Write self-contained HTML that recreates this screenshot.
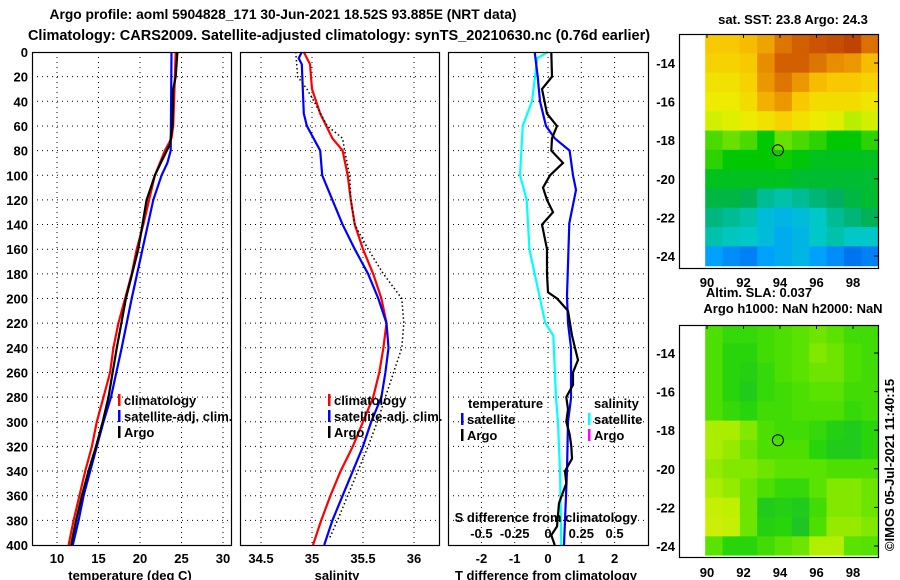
<!DOCTYPE html>
<html><head><meta charset="utf-8"><style>
html,body{margin:0;padding:0;background:#fff;width:900px;height:580px;overflow:hidden}
svg text{font-family:"Liberation Sans",Arial,sans-serif;font-weight:bold;fill:#000}
</style></head><body>
<svg id="fig" width="900" height="580" viewBox="0 0 900 580" xmlns="http://www.w3.org/2000/svg">
<text x="283" y="19" font-size="13.8" text-anchor="middle">Argo profile: aoml 5904828_171 30-Jun-2021 18.52S 93.885E (NRT data)</text>
<text x="339" y="40" font-size="14.5" text-anchor="middle">Climatology: CARS2009. Satellite-adjusted climatology: synTS_20210630.nc (0.76d earlier)</text>
<g id="g"></g>
</svg>
<script>
// ---------- data ----------
const depthTicks=[0,20,40,60,80,100,120,140,160,180,200,220,240,260,280,300,320,340,360,380,400];
const tempTicks=[10,15,20,25,30];
const salTicks=[34.5,35,35.5,36];
const tdiffTicks=[-2,-1,0,1,2];
const sdiffTicks=[-0.5,-0.25,0,0.25,0.5];
const sdiffLabels=["-0.5","-0.25","0","0.25","0.5"];
const latTicks=[-14,-16,-18,-20,-22,-24];
const lonTicks=[90,92,94,96,98];

const tClimDepth=[0,20,60,70,80,90,100,120,140,160,180,200,220,240,260,280,300,320,340,360,380,400];
const tClimVal=[24.3,24.2,24.0,23.8,23.0,22.4,21.8,21.1,20.4,19.6,19.0,18.2,17.4,16.8,16.4,15.6,14.8,14.2,13.4,12.7,12.0,11.4];
const tSatDepth=[0,80,90,100,120,160,200,240,280,300,340,360,380,400];
const tSatVal=[23.8,23.7,23.3,22.6,21.6,20.3,19.0,17.8,16.5,15.6,14.0,13.2,12.6,11.9];
const tArgoDepth=[0,20,30,60,75,90,100,110,120,160,200,240,280,300,320,340,360,380,400];
const tArgoVal=[24.5,24.3,24.0,23.9,23.6,22.5,21.8,21.3,20.8,19.8,18.3,17.2,16.2,15.5,14.7,13.8,13.0,12.3,11.7];

const sClimDepth=[0,10,30,50,70,80,100,120,140,160,180,200,220,240,260,280,300,320,340,360,380,400];
const sClimVal=[34.92,34.98,35.0,35.08,35.2,35.3,35.35,35.38,35.42,35.5,35.6,35.68,35.73,35.7,35.66,35.6,35.5,35.4,35.28,35.18,35.09,35.01];
const sSatDepth=[0,5,10,30,50,60,80,100,120,140,160,180,200,220,240,260,280,300,320,340,360,380,400];
const sSatVal=[34.9,34.87,34.9,34.91,34.92,34.95,35.08,35.1,35.2,35.3,35.42,35.55,35.65,35.73,35.75,35.72,35.68,35.58,35.5,35.4,35.3,35.2,35.12];
const sArgoDepth=[0,20,30,40,60,70,80,100,120,140,160,180,200,220,240,260,280,300,320,340,360,380,395];
const sArgoVal=[34.84,34.86,34.95,35.02,35.15,35.3,35.32,35.37,35.38,35.42,35.55,35.7,35.88,35.9,35.88,35.8,35.72,35.64,35.55,35.45,35.35,35.25,35.17];

const dtSatDepth=[0,20,40,60,70,80,100,112,139,198,220,240,281,300,340,400];
const dtSatVal=[-0.4,-0.31,-0.24,-0.06,0.2,0.65,0.75,0.84,0.64,0.57,0.6,0.69,0.69,0.6,0.57,0.48];
const dsSatDepth=[0,5,40,60,80,100,120,160,180,220,230,281,300,340,400];
const dsSatVal=[0,-0.08,-0.12,-0.19,-0.2,-0.21,-0.16,-0.14,-0.1,-0.02,0.04,0.06,0.075,0.09,0.1];
const dtArgoDepth=[0,20,30,50,60,70,80,90,100,110,120,130,140,160,180,195,200,210,230,250,260,270,280,290,300,310,320,330,340,350,366,385,392,400];
const dtArgoVal=[0.1,0.12,-0.18,-0.03,0.27,0.12,0.1,0.45,0.06,-0.15,-0.03,0.15,-0.18,-0.03,-0.03,0.0,0.27,0.6,0.72,0.9,0.75,0.75,0.55,0.6,0.55,0.65,0.7,0.72,0.51,0.55,0.33,0.27,0.1,0.2];

const sstGrid=[
[0.7,0.7,0.72,0.76,0.84,0.88,0.9,0.92,0.95,0.85],
[0.68,0.68,0.7,0.8,0.88,0.88,0.84,0.8,0.78,0.72],
[0.65,0.65,0.68,0.78,0.84,0.78,0.72,0.7,0.7,0.68],
[0.63,0.63,0.66,0.74,0.78,0.7,0.66,0.66,0.66,0.64],
[0.6,0.61,0.63,0.65,0.68,0.65,0.63,0.61,0.58,0.6],
[0.5,0.52,0.5,0.45,0.52,0.5,0.48,0.45,0.45,0.48],
[0.48,0.45,0.45,0.45,0.46,0.44,0.42,0.42,0.42,0.42],
[0.42,0.42,0.42,0.42,0.42,0.4,0.4,0.4,0.4,0.4],
[0.38,0.38,0.36,0.3,0.28,0.3,0.33,0.35,0.38,0.4],
[0.32,0.3,0.28,0.22,0.2,0.22,0.25,0.3,0.33,0.36],
[0.28,0.26,0.25,0.22,0.18,0.2,0.25,0.28,0.25,0.25],
[0.15,0.12,0.1,0.15,0.18,0.2,0.15,0.12,0.08,0.1]];
const slaGrid=[
[0.45,0.35,0.35,0.4,0.45,0.5,0.55,0.5,0.4,0.4],
[0.45,0.3,0.3,0.4,0.45,0.5,0.6,0.55,0.45,0.4],
[0.45,0.3,0.25,0.35,0.45,0.5,0.55,0.55,0.45,0.4],
[0.45,0.3,0.2,0.35,0.4,0.45,0.5,0.5,0.4,0.4],
[0.45,0.35,0.3,0.4,0.4,0.45,0.45,0.45,0.35,0.4],
[0.7,0.7,0.6,0.45,0.4,0.4,0.35,0.25,0.2,0.3],
[0.7,0.65,0.55,0.45,0.45,0.45,0.3,0.2,0.2,0.3],
[0.65,0.6,0.6,0.55,0.5,0.5,0.5,0.45,0.45,0.45],
[0.7,0.65,0.55,0.45,0.35,0.35,0.5,0.6,0.6,0.55],
[0.8,0.75,0.55,0.2,0.25,0.2,0.4,0.6,0.6,0.55],
[0.85,0.8,0.55,0.25,0.3,0.15,0.45,0.65,0.65,0.6],
[0.5,0.3,0.3,0.4,0.5,0.55,0.72,0.72,0.5,0.48]];

// ---------- helpers ----------
const NS="http://www.w3.org/2000/svg";
const G=document.getElementById('g');
function mk(tag,attrs,parent){const e=document.createElementNS(NS,tag);for(const k in attrs)e.setAttribute(k,attrs[k]);(parent||G).appendChild(e);return e;}
function txt(s,x,y,size,anchor,parent){const e=mk('text',{x:x,y:y,'font-size':size,'text-anchor':anchor||'middle'},parent);e.textContent=s;return e;}

const Y0=52,Y1=545;
const yD=d=>Y0+d*(Y1-Y0)/400;
const xT=t=>57+(t-10)*8.3;
const xS=s=>312+(s-35)*102;
const xDT=v=>548+v*33.3;
const xDS=v=>548+v*133.2;

function panel(name,x0,x1){
  const g=mk('g',{});
  
  
  for(const d of depthTicks){ if(d>0&&d<400){const l=mk('line',{x1:x0,x2:x1,y1:yD(d),y2:yD(d),stroke:'#000','stroke-width':1,'stroke-dasharray':'1 4'},g);
    
    }}
  return g;
}
function vgrid(g,vals,fx){for(const v of vals){const l=mk('line',{x1:fx(v),x2:fx(v),y1:Y0,y2:Y1,stroke:'#000','stroke-width':1,'stroke-dasharray':'1 4'},g);
  
  }}
function frame(g,x0,x1,y0,y1){const r=mk('rect',{x:x0+0.5,y:y0+0.5,width:x1-x0,height:y1-y0,fill:'none',stroke:'#000','stroke-width':1.2},g);
  
  }
function line(g,ds,vs,fx,color,name,dash){
  const pts=ds.map((d,i)=>fx(vs[i]).toFixed(1)+','+yD(d).toFixed(1)).join(' ');
  const p=mk('polyline',{points:pts,fill:'none',stroke:color,'stroke-width':dash?1.5:2.2},g);
  if(dash)p.setAttribute('stroke-dasharray','1.5 2.5');
  
  
}
function legendEntry(g,x,y,color,label,name){
  const e=mk('g',{},g);
  
  
  mk('rect',{x:x,y:y-11,width:2.5,height:12,fill:color},e);
  txt(label,x+6,y,13,'start',e);
}

// ---------- panel 1 ----------
const p1=panel('temperature-panel',32,231);
vgrid(p1,tempTicks,xT);
line(p1,tClimDepth,tClimVal,xT,'#f00','temp-climatology-line');
line(p1,tSatDepth,tSatVal,xT,'#00f','temp-satellite-line');
line(p1,tArgoDepth,tArgoVal,xT,'#000','temp-argo-line');
frame(p1,32,231,Y0,Y1);
for(const d of depthTicks){const t=txt(String(d),28,yD(d)+5,13,'end',p1);
  
  }
for(const v of tempTicks){const t=txt(String(v),xT(v),563,13,'middle',p1);
  
  }
txt('temperature (deg C)',130,580,13,'middle',p1);
legendEntry(p1,118,405,'#f00','climatology','legend-climatology');
legendEntry(p1,118,421,'#00f','satellite-adj. clim.','legend-satellite');
legendEntry(p1,118,437,'#000','Argo','legend-argo');

// ---------- panel 2 ----------
const p2=panel('salinity-panel',240,439);
vgrid(p2,salTicks,xS);
line(p2,sClimDepth,sClimVal,xS,'#f00','sal-climatology-line');
line(p2,sSatDepth,sSatVal,xS,'#00f','sal-satellite-line');
line(p2,sArgoDepth,sArgoVal,xS,'#000','sal-argo-line',true);
frame(p2,240,439,Y0,Y1);
for(const v of salTicks){const t=txt(String(v),xS(v),563,13,'middle',p2);
  
  }
txt('salinity',337,580,13,'middle',p2);
legendEntry(p2,328,405,'#f00','climatology','legend-climatology');
legendEntry(p2,328,421,'#00f','satellite-adj. clim.','legend-satellite');
legendEntry(p2,328,437,'#000','Argo','legend-argo');

// ---------- panel 3 ----------
const p3=panel('difference-panel',448,648);
vgrid(p3,tdiffTicks,xDT);
line(p3,dsSatDepth,dsSatVal,xDS,'#0ff','sdiff-satellite-line');
line(p3,dtSatDepth,dtSatVal,xDT,'#00f','tdiff-satellite-line');
line(p3,dtArgoDepth,dtArgoVal,xDT,'#000','tdiff-argo-line');
frame(p3,448,648,Y0,Y1);
for(const v of tdiffTicks){const t=txt(String(v),xDT(v),563,13,'middle',p3);
  
  }
txt('T difference from climatology',546,580,13,'middle',p3);
sdiffTicks.forEach((v,i)=>{const t=txt(sdiffLabels[i],xDS(v),538,13,'middle',p3);
  
  });
txt('S difference from climatology',546,522,13,'middle',p3);
txt('temperature',468,408,13,'start',p3);
txt('salinity',594,408,13,'start',p3);
legendEntry(p3,461,424,'#00f','satellite','legend-t-satellite');
legendEntry(p3,461,440,'#000','Argo','legend-t-argo');
legendEntry(p3,588,424,'#0ff','satellite','legend-s-satellite');
legendEntry(p3,588,440,'#f0f','Argo','legend-s-argo');

// ---------- maps ----------
const sstStops=[[0,[0,64,224]],[0.15,[0,160,255]],[0.25,[0,200,200]],[0.35,[0,176,96]],[0.45,[0,200,0]],[0.55,[150,236,0]],[0.62,[235,240,0]],[0.7,[248,200,0]],[0.8,[232,140,0]],[0.9,[204,84,0]],[1,[176,52,0]]];
const slaStops=[[0,[20,184,60]],[0.3,[40,212,10]],[0.5,[90,226,0]],[0.75,[190,240,0]],[1,[225,235,20]]];
function cmap(stops,v){for(let i=1;i<stops.length;i++){if(v<=stops[i][0]){const a=stops[i-1],b=stops[i],f=(v-a[0])/(b[0]-a[0]);return 'rgb('+a[1].map((c,k)=>Math.round(c+(b[1][k]-c)*f)).join(',')+')';}}return 'rgb('+stops[stops.length-1][1].join(',')+')';}

function drawMap(name,grid,stops,top,bottom,latAt14,lonLabelY){
  const g=mk('g',{});
  
  
  const fx=lon=>707+(lon-90)*18.25;
  const fy=lat=>latAt14+(-14-lat)*19.3;
  const cw=0.95;
  grid.forEach((row,r)=>row.forEach((v,c)=>{
    const x0=fx(89.9+c*cw), x1=Math.min(fx(89.9+(c+1)*cw),878);
    const y0=Math.max(fy(-12.5-r),top), y1=Math.min(fy(-13.5-r),bottom);
    const cell=mk('rect',{x:x0,y:y0,width:x1-x0+0.6,height:y1-y0+0.6,fill:cmap(stops,v)},g);
    
    
  }));
  const fr=mk('rect',{x:679.5,y:top+0.5,width:199,height:bottom-top+2,fill:'none',stroke:'#000','stroke-width':1.2},g);
  
  
  for(const la of latTicks){const y=fy(la);if(y<top||y>bottom+2)continue;
    mk('line',{x1:874,x2:879,y1:y,y2:y,stroke:'#000'},g);
    const t=txt(String(la),675,y+5,13,'end',g);
    
    }
  for(const lo of lonTicks){mk('line',{x1:fx(lo),x2:fx(lo),y1:top,y2:top+4,stroke:'#000'},g);
    const t=txt(String(lo),fx(lo),lonLabelY,13,'middle',g);
    
    }
  const c=mk('circle',{cx:fx(93.885),cy:fy(-18.52),r:5.5,fill:'none',stroke:'#000','stroke-width':1},g);
  
  
}
drawMap('sst-map',sstGrid,sstStops,34,266,63,287);
drawMap('sla-map',slaGrid,slaStops,325,555,353,577);
txt('sat. SST: 23.8 Argo: 24.3',793,24,13,'middle');
txt('Altim. SLA: 0.037',759,297,13,'middle');
txt('Argo h1000: NaN h2000: NaN',793,313,13,'middle');
const cr=txt('©IMOS 05-Jul-2021 11:40:15',0,0,13,'middle');
cr.setAttribute('transform','translate(894,465) rotate(-90)');


</script>
</body></html>
